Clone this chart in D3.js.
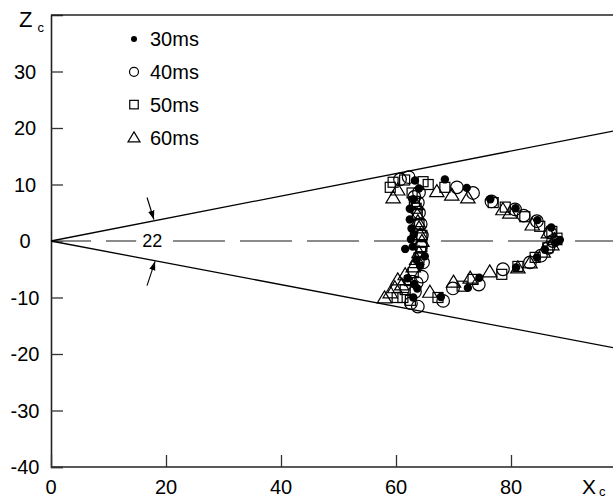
<!DOCTYPE html>
<html><head><meta charset="utf-8">
<script src="https://cdn.jsdelivr.net/npm/d3@7"></script>
<style>
body{margin:0;background:#fff}
svg{display:block}
text{font-family:"Liberation Sans",Arial,sans-serif;fill:#000}
</style>
</head><body>
<svg id="c" width="613" height="498"></svg>
<script>
// ---- data ----
const xTicks = [0, 20, 40, 60, 80];
const yTicks = [-40, -30, -20, -10, 0, 10, 20, 30];
const seriesNames = ["30ms", "40ms", "50ms", "60ms"];

const s30 = [[63.3,10.7],[64.0,9.3],[68.5,10.9],[72.3,9.4],[76.4,7.4],[80.8,5.8],[84.6,3.7],[87.0,2.4],[88.5,0.2],[87.7,-0.3],[85.9,-1.5],[84.5,-2.9],[80.9,-4.7],[74.5,-6.5],[72.5,-8.3],[67.8,-9.9],[63.0,-10.0],[63.7,-8.4],[62.0,-6.6],[64.2,-4.4],[65.0,-2.7],[61.6,-1.4],[62.6,0.3],[62.7,2.2],[62.4,3.8],[62.4,5.7],[63.0,7.4],[63.6,-3.3],[63.2,-7.6],[62.9,-1.0],[63.1,1.2]];
const s40 = [[60.7,10.9],[62.2,11.3],[63.2,7.8],[63.8,6.8],[64.0,5.0],[64.3,3.0],[64.5,1.0],[64.3,-1.0],[64.7,-3.8],[64.5,-6.3],[63.3,-9.0],[62.6,-11.0],[63.8,-11.6],[68.2,-10.6],[69.9,-8.4],[74.4,-7.7],[78.6,-5.0],[83.3,-3.8],[85.2,-2.6],[86.5,-1.2],[87.3,0.0],[86.8,1.5],[84.5,3.5],[82.2,4.5],[80.7,5.6],[76.6,7.0],[73.4,8.5],[70.6,9.5],[64.0,8.6],[63.6,-7.4]];
const s50 = [[59.0,9.5],[59.5,10.4],[61.5,10.8],[64.7,10.5],[65.6,10.0],[68.5,9.5],[76.9,6.8],[79.0,6.0],[82.4,4.3],[85.0,2.6],[87.1,1.7],[88.0,0.5],[86.4,-1.2],[84.2,-2.9],[81.2,-4.5],[78.4,-5.9],[73.4,-6.8],[71.5,-8.0],[67.3,-10.0],[62.5,-10.5],[61.2,-10.0],[60.2,-10.0],[61.6,-8.6],[63.0,-5.6],[64.0,-3.0],[64.5,-1.0],[64.5,1.0],[64.0,3.0],[63.7,4.7],[63.2,7.0],[62.8,8.5],[64.3,-2.0],[63.5,5.8],[62.4,-7.0]];
const s60 = [[59.5,7.7],[60.3,9.1],[67.1,8.8],[69.7,8.2],[72.5,7.7],[78.6,5.6],[79.8,5.0],[83.7,2.9],[86.5,1.5],[87.6,0.3],[87.1,-0.6],[85.6,-1.9],[83.3,-3.8],[81.2,-4.7],[76.3,-5.4],[72.9,-6.5],[70.0,-7.2],[65.9,-9.0],[59.0,-9.1],[58.0,-10.0],[60.3,-6.8],[61.0,-7.7],[61.6,-5.9],[63.0,-4.5],[64.0,-2.0],[64.5,0.0],[64.0,2.4],[63.7,4.7],[63.5,6.5],[64.2,1.2],[63.8,3.5],[63.6,-3.2],[59.8,-8.2]];

const boundX = [0, 100];
const upperZ = [0, 19.9];
const lowerZ = [0, -19.3];
const arrowUp = [[16.7, 7.7], [17.9, 3.8]];
const arrowLow = [[16.7, -7.9], [18.1, -3.6]];
const angleLabel = "22";
const angleLabelPos = [17.6, 0];

// ---- layout ----
const svg = d3.select("#c");
const W = 613, H = 498;
const x = d3.scaleLinear().domain([0, 100]).range([51, 626]);
const y = d3.scaleLinear().domain([-40, 40]).range([467, 15]);

svg.append("defs").append("marker")
  .attr("id","ah").attr("viewBox","0 0 10 10").attr("refX",10).attr("refY",5)
  .attr("markerWidth",9).attr("markerHeight",9).attr("orient","auto").attr("markerUnits","userSpaceOnUse")
  .append("path").attr("d","M0,1.5 L10,5 L0,8.5 Z").attr("fill","#000");

// frame lines
svg.append("line").attr("x1",x(0)).attr("x2",W).attr("y1",y(40)).attr("y2",y(40)).attr("stroke","#222").attr("stroke-width",1.6);
svg.append("line").attr("x1",x(0)).attr("x2",W).attr("y1",y(-40)).attr("y2",y(-40)).attr("stroke","#222").attr("stroke-width",1.6);

// axes with inward ticks
const yAxis = d3.axisRight(y).tickValues(yTicks).tickSize(12).tickFormat("");
const gy = svg.append("g").attr("transform",`translate(${x(0)},0)`).call(yAxis);
gy.select(".domain").attr("stroke","#222").attr("stroke-width",1.6);
gy.selectAll(".tick line").attr("stroke","#333").attr("stroke-width",1.3);

const xAxis = d3.axisTop(x).tickValues(xTicks).tickSize(12).tickFormat("");
const gx = svg.append("g").attr("transform",`translate(0,${y(-40)})`).call(xAxis);
gx.select(".domain").remove();
gx.selectAll(".tick line").attr("stroke","#333").attr("stroke-width",1.3);

// tick labels
svg.selectAll(".ylab").data(yTicks).join("text").attr("class","ylab")
  .attr("x",25).attr("y",d=>y(d)).attr("dy","0.36em").attr("text-anchor","middle")
  .style("font-size","20px").text(d=>d);
svg.selectAll(".xlab").data(xTicks).join("text").attr("class","xlab")
  .attr("x",d=>x(d)).attr("y",494).attr("text-anchor","middle")
  .style("font-size","20px").text(d=>d);

// axis titles
const zt = svg.append("text").attr("x",19).attr("y",27).style("font-size","22px");
zt.append("tspan").text("Z");
zt.append("tspan").attr("dx",5).attr("dy",5).style("font-size","13px").text("c");
const xt = svg.append("text").attr("x",582).attr("y",494).style("font-size","21px");
xt.append("tspan").text("X");
xt.append("tspan").attr("dx",3).attr("dy",2).style("font-size","13px").text("c");

// dashed center line
svg.append("line").attr("x1",x(0)).attr("x2",W).attr("y1",y(0)).attr("y2",y(0))
  .attr("stroke","#666").attr("stroke-width",1.4).attr("stroke-dasharray","52,15").attr("stroke-dashoffset",12);

// boundary lines
const line = d3.line().x(d=>x(d[0])).y(d=>y(d[1]));
svg.append("path").attr("d",line(boundX.map((v,i)=>[v,upperZ[i]]))).attr("stroke","#000").attr("stroke-width",1.3).attr("fill","none");
svg.append("path").attr("d",line(boundX.map((v,i)=>[v,lowerZ[i]]))).attr("stroke","#000").attr("stroke-width",1.3).attr("fill","none");

// angle label with white background
const lg = svg.append("g");
lg.append("rect").attr("x",x(angleLabelPos[0])-16).attr("y",y(angleLabelPos[1])-10).attr("width",34).attr("height",20).attr("fill","#fff");
lg.append("text").attr("x",x(angleLabelPos[0])).attr("y",y(angleLabelPos[1])).attr("dy","0.36em")
  .attr("text-anchor","middle").style("font-size","18px").text(angleLabel);

// arrows
[arrowUp, arrowLow].forEach(a=>{
  svg.append("path").attr("d",line(a)).attr("stroke","#000").attr("stroke-width",1.1).attr("fill","none").attr("marker-end","url(#ah)");
});

// markers
const tri = (cx,cy,s)=>`M${cx},${cy-s*0.55} L${cx+s*0.6},${cy+s*0.45} L${cx-s*0.6},${cy+s*0.45} Z`;
function drawSeries(g, data, kind, big){
  const sel = g.selectAll("x").data(data).enter();
  if(kind===0){
    sel.append("circle").attr("cx",d=>x(d[0])).attr("cy",d=>y(d[1])).attr("r",big?4.2:3).attr("fill","#000");
  } else if(kind===1){
    sel.append("circle").attr("cx",d=>x(d[0])).attr("cy",d=>y(d[1])).attr("r",big?6.3:4.5)
      .attr("fill","none").attr("stroke","#000").attr("stroke-width",1.2);
  } else if(kind===2){
    const s = big?10:8.5;
    sel.append("rect").attr("x",d=>x(d[0])-s/2).attr("y",d=>y(d[1])-s/2).attr("width",s).attr("height",s)
      .attr("fill","none").attr("stroke","#000").attr("stroke-width",1.2);
  } else {
    const s = big?12:10;
    sel.append("path").attr("d",d=>tri(x(d[0]),y(d[1]),s))
      .attr("fill","none").attr("stroke","#000").attr("stroke-width",1.2);
  }
}
const all = [s30, s40, s50, s60];
const pg = svg.append("g");
[3,2,1,0].forEach(k=>drawSeries(pg.append("g"), all[k], k, true));

// legend
const legY = d => 39 + d*32.8;
seriesNames.forEach((name,i)=>{
  const g = svg.append("g");
  const cx = 134, cy = legY(i);
  const px = [x.invert(cx), y.invert(cy)];
  drawSeries(g, [px], i, false);
  g.append("text").attr("x",150).attr("y",cy).attr("dy","0.36em").style("font-size","20px").text(name);
});
</script>
</body></html>
